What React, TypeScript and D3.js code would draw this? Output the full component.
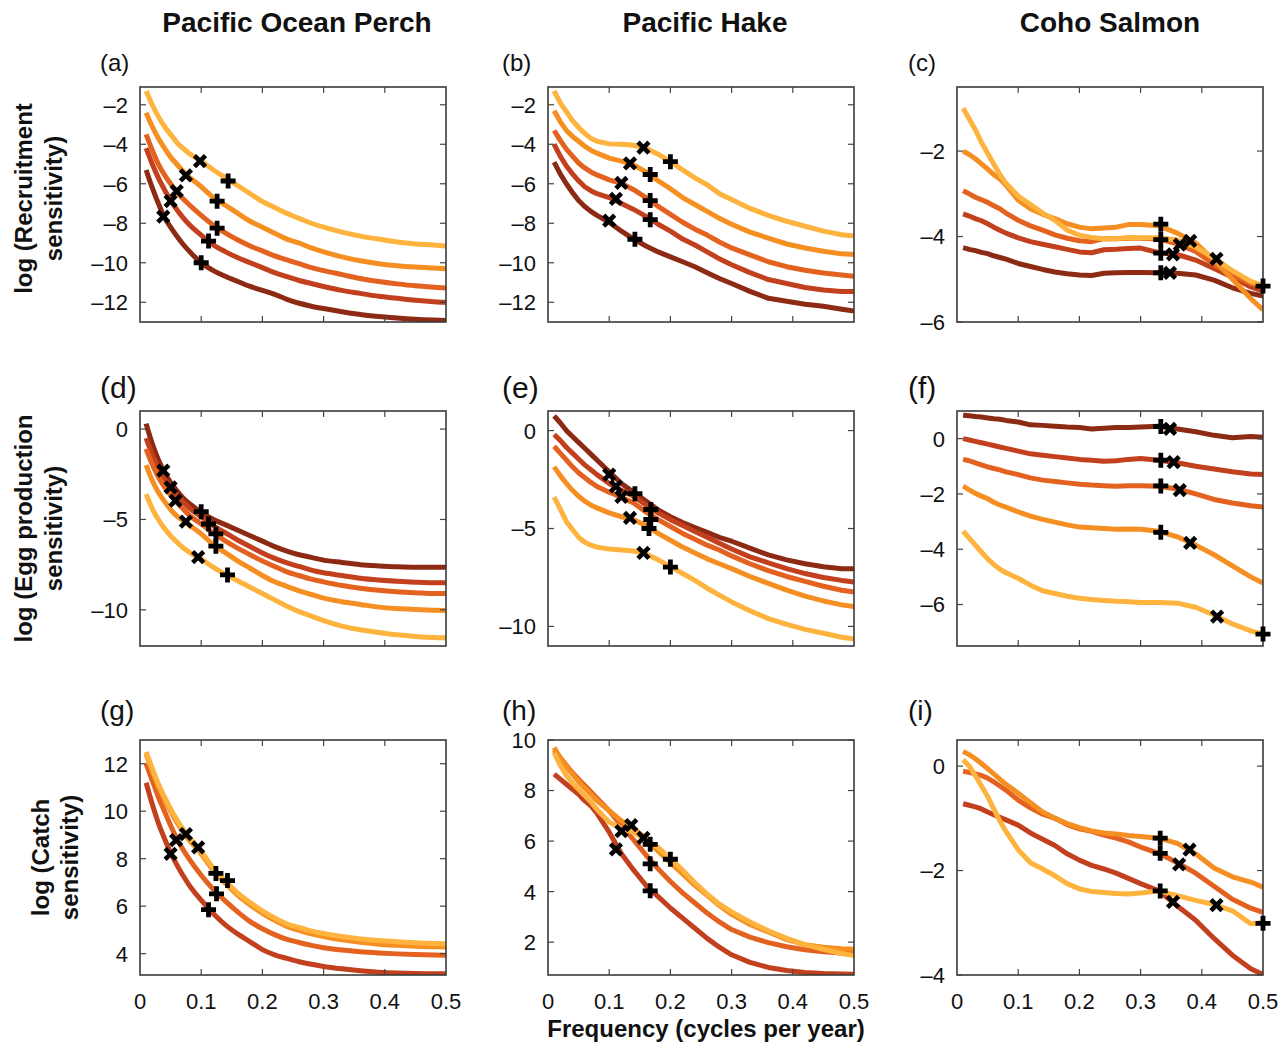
import React from "react";
import * as d3 from "d3";

// frequencies (cycles per year) shared by every curve
const FREQ = [0.01, 0.02, 0.03, 0.04, 0.05, 0.06, 0.07, 0.08, 0.1, 0.12, 0.14, 0.16, 0.18, 0.2, 0.22, 0.24, 0.26, 0.28, 0.3, 0.33, 0.36, 0.39, 0.42, 0.45, 0.48, 0.5];

// light -> dark
const COLORS = ["#FDB33D", "#F58F22", "#E4621F", "#C2401E", "#8C2A13"];

const SPECIES = ["Pacific Ocean Perch", "Pacific Hake", "Coho Salmon"];
const ROW_TITLES = [
  ["log (Recruitment", "sensitivity)"],
  ["log (Egg production", "sensitivity)"],
  ["log (Catch", "sensitivity)"],
];
const X_TICKS = [0, 0.1, 0.2, 0.3, 0.4, 0.5];

// (a) recruitment, perch
const recPerch = [
  [-1.3, -2.0, -2.6, -3.1, -3.5, -3.9, -4.2, -4.45, -4.85, -5.3, -5.7, -6.1, -6.5, -6.9, -7.2, -7.5, -7.75, -8.0, -8.2, -8.45, -8.65, -8.8, -8.95, -9.05, -9.1, -9.15],
  [-2.4, -3.1, -3.7, -4.2, -4.65, -5.0, -5.35, -5.65, -6.15, -6.7, -7.1, -7.5, -7.9, -8.2, -8.5, -8.8, -9.0, -9.25, -9.45, -9.7, -9.9, -10.05, -10.15, -10.22, -10.27, -10.3],
  [-3.5, -4.3, -5.0, -5.55, -6.0, -6.4, -6.75, -7.05, -7.6, -8.1, -8.5, -8.85, -9.15, -9.4, -9.65, -9.85, -10.05, -10.25, -10.4, -10.6, -10.8, -10.95, -11.07, -11.17, -11.24, -11.28],
  [-4.2, -5.0, -5.7, -6.3, -6.85, -7.3, -7.7, -8.05, -8.6, -9.1, -9.45, -9.75, -10.0, -10.25, -10.5, -10.7, -10.9, -11.05, -11.2, -11.4, -11.55, -11.7, -11.8, -11.9, -11.97, -12.0],
  [-5.3, -6.2, -7.0, -7.7, -8.2, -8.65, -9.05, -9.4, -10.0, -10.4, -10.7, -10.95, -11.2, -11.4, -11.6, -11.85, -12.05, -12.2, -12.32, -12.48, -12.62, -12.72, -12.8, -12.86, -12.9, -12.92],
];
const recPerchX = [[0.098, -4.85], [0.075, -5.57], [0.06, -6.37], [0.05, -6.88], [0.038, -7.67]];
const recPerchP = [[0.144, -5.86], [0.126, -6.88], [0.126, -8.25], [0.112, -8.9], [0.1, -10.0]];

// (b) recruitment, hake
const recHake = [
  [-1.3, -1.9, -2.35, -2.8, -3.15, -3.45, -3.7, -3.85, -3.98, -4.0, -4.05, -4.2, -4.5, -4.88, -5.3, -5.7, -6.05, -6.5, -6.8, -7.25, -7.6, -7.9, -8.15, -8.4, -8.58, -8.65],
  [-2.3, -2.85, -3.3, -3.6, -3.85, -4.1, -4.3, -4.45, -4.7, -4.85, -5.05, -5.4, -5.85, -6.25, -6.7, -7.05, -7.4, -7.75, -8.05, -8.45, -8.75, -9.05, -9.25, -9.42, -9.55, -9.58],
  [-3.3, -3.8, -4.25, -4.6, -4.95, -5.2, -5.4, -5.55, -5.8, -5.98, -6.3, -6.7, -7.15, -7.55, -7.95, -8.3, -8.6, -8.95, -9.25, -9.6, -9.95, -10.2, -10.38, -10.52, -10.62, -10.68],
  [-4.0, -4.6, -5.1, -5.5, -5.85, -6.15, -6.35, -6.5, -6.7, -7.0, -7.3, -7.65, -8.05, -8.4, -8.8, -9.1, -9.45, -9.8, -10.1, -10.5, -10.85, -11.05, -11.25, -11.38, -11.45, -11.45],
  [-4.9, -5.5, -6.0, -6.45, -6.85, -7.15, -7.4, -7.6, -7.95, -8.4, -8.8, -9.15, -9.45, -9.7, -9.95, -10.2, -10.5, -10.8, -11.05, -11.45, -11.8, -11.95, -12.1, -12.2, -12.35, -12.45],
];
const recHakeX = [[0.156, -4.17], [0.134, -4.97], [0.12, -5.96], [0.111, -6.76], [0.1, -7.87]];
const recHakeP = [[0.2, -4.88], [0.167, -5.53], [0.167, -6.85], [0.167, -7.82], [0.142, -8.81]];

// (c) recruitment, coho
const recCoho = [
  [-1.0, -1.25, -1.5, -1.8, -2.05, -2.3, -2.55, -2.75, -3.05, -3.25, -3.45, -3.62, -3.85, -3.97, -4.02, -4.05, -4.05, -4.02, -4.03, -4.03, -4.08, -4.25, -4.5, -4.8, -5.05, -5.15],
  [-2.0, -2.08, -2.18, -2.3, -2.42, -2.55, -2.65, -2.8, -3.15, -3.35, -3.48, -3.58, -3.7, -3.78, -3.82, -3.8, -3.78, -3.72, -3.72, -3.75, -3.92, -4.15, -4.55, -5.0, -5.45, -5.72],
  [-2.93, -3.0, -3.08, -3.14, -3.2, -3.28, -3.35, -3.45, -3.62, -3.75, -3.85, -3.96, -4.04, -4.1, -4.12, -4.05, -4.05, -4.04, -4.04, -4.06, -4.17, -4.35, -4.65, -4.9, -5.1, -5.16],
  [-3.47, -3.52, -3.58, -3.63, -3.7, -3.78, -3.85, -3.92, -4.03, -4.12, -4.18, -4.24, -4.3, -4.36, -4.38, -4.31, -4.3, -4.28, -4.27, -4.38, -4.42, -4.55, -4.75, -4.95, -5.18, -5.28],
  [-4.26, -4.3, -4.33, -4.37, -4.4, -4.45, -4.49, -4.53, -4.63, -4.7, -4.77, -4.83, -4.87, -4.9, -4.91, -4.86, -4.85, -4.84, -4.84, -4.85, -4.86, -4.9, -5.02, -5.2, -5.33, -5.39],
];
const recCohoX = [[0.424, -4.52], [0.381, -4.1], [0.364, -4.19], [0.353, -4.42], [0.348, -4.85]];
const recCohoP = [[0.5, -5.16], [0.333, -3.71], [0.333, -4.07], [0.333, -4.39], [0.333, -4.85]];

// (d) egg production, perch
const eggPerch = [
  [-3.6, -4.4, -5.0, -5.5, -5.9, -6.25, -6.55, -6.8, -7.2, -7.65, -8.05, -8.4, -8.75, -9.1, -9.45, -9.8, -10.1, -10.35, -10.6, -10.9, -11.1, -11.25, -11.38, -11.47, -11.53, -11.55],
  [-2.0, -2.85, -3.5, -4.0, -4.45, -4.8, -5.05, -5.3, -5.8, -6.4, -6.85, -7.3, -7.7, -8.1, -8.45, -8.7, -8.95, -9.15, -9.35, -9.55, -9.7, -9.85, -9.93, -9.98, -10.02, -10.04],
  [-1.1, -1.95, -2.65, -3.2, -3.65, -4.05, -4.4, -4.75, -5.25, -5.75, -6.2, -6.6, -6.95, -7.3, -7.6, -7.9, -8.1, -8.3, -8.45, -8.65, -8.8, -8.92, -9.0, -9.05, -9.1, -9.1],
  [-0.5, -1.4, -2.15, -2.75, -3.25, -3.65, -4.0, -4.35, -4.85, -5.35, -5.75, -6.15, -6.5, -6.85, -7.15, -7.4, -7.6, -7.8, -7.95, -8.1, -8.25, -8.35, -8.42, -8.47, -8.5, -8.5],
  [0.3, -0.8, -1.7, -2.4, -2.95, -3.4, -3.8, -4.1, -4.6, -5.0, -5.3, -5.6, -5.9, -6.2, -6.5, -6.75, -6.95, -7.1, -7.25, -7.38, -7.5, -7.57, -7.62, -7.64, -7.65, -7.65],
];
const eggPerchX = [[0.095, -7.09], [0.075, -5.12], [0.058, -3.96], [0.05, -3.22], [0.038, -2.3]];
const eggPerchP = [[0.143, -8.07], [0.124, -6.48], [0.124, -5.8], [0.112, -5.25], [0.1, -4.57]];

// (e) egg production, hake
const eggHake = [
  [-3.4, -4.0, -4.65, -5.05, -5.45, -5.7, -5.85, -5.95, -6.05, -6.1, -6.15, -6.3, -6.6, -6.95, -7.3, -7.65, -8.05, -8.4, -8.75, -9.2, -9.6, -9.9, -10.15, -10.35, -10.55, -10.65],
  [-1.85, -2.3, -2.7, -3.05, -3.35, -3.6, -3.8, -3.95, -4.2, -4.4, -4.55, -4.85, -5.25, -5.6, -5.95, -6.25, -6.55, -6.8, -7.05, -7.45, -7.8, -8.15, -8.45, -8.7, -8.9, -8.98],
  [-0.8, -1.15, -1.5, -1.85, -2.15, -2.4, -2.65, -2.85, -3.15, -3.4, -3.7, -4.15, -4.55, -4.9, -5.25, -5.55, -5.85, -6.1, -6.4, -6.8, -7.15, -7.45, -7.7, -7.95, -8.15, -8.24],
  [-0.2, -0.5, -0.85, -1.15, -1.45, -1.75, -2.0, -2.25, -2.7, -3.05, -3.35, -3.8, -4.2, -4.55, -4.85, -5.15, -5.45, -5.75, -6.05, -6.45, -6.75, -7.05, -7.3, -7.5, -7.65, -7.73],
  [0.75, 0.4, 0.0, -0.3, -0.6, -0.9, -1.2, -1.5, -2.1, -2.7, -3.15, -3.6, -4.05, -4.4, -4.7, -4.95, -5.2, -5.45, -5.65, -6.0, -6.35, -6.6, -6.8, -6.95, -7.05, -7.05],
];
const eggHakeX = [[0.156, -6.24], [0.134, -4.46], [0.12, -3.39], [0.111, -2.85], [0.1, -2.25]];
const eggHakeP = [[0.2, -6.97], [0.165, -5.0], [0.168, -4.54], [0.168, -4.03], [0.142, -3.22]];

// (f) egg production, coho
const eggCoho = [
  [-3.35, -3.6, -3.85, -4.1, -4.35, -4.55, -4.72, -4.85, -5.05, -5.3, -5.5, -5.6, -5.7, -5.77, -5.82, -5.85, -5.88, -5.9, -5.93, -5.93, -5.95, -6.1, -6.38, -6.7, -6.95, -7.07],
  [-1.72, -1.85, -1.98, -2.08, -2.17, -2.3, -2.4, -2.48, -2.65, -2.8, -2.92, -3.02, -3.12, -3.2, -3.22, -3.25, -3.28, -3.27, -3.28, -3.35, -3.55, -3.85, -4.2, -4.6, -5.0, -5.22],
  [-0.75, -0.8, -0.88, -0.95, -1.02, -1.08, -1.13, -1.2, -1.3, -1.42, -1.5, -1.55, -1.6, -1.65, -1.68, -1.7, -1.72, -1.7, -1.7, -1.72, -1.82, -2.0, -2.2, -2.33, -2.43, -2.47],
  [0.0, -0.05, -0.1, -0.15, -0.2, -0.25, -0.3, -0.35, -0.45, -0.55, -0.6, -0.65, -0.7, -0.75, -0.78, -0.82, -0.8, -0.75, -0.72, -0.78, -0.87, -1.0, -1.1, -1.2, -1.28, -1.3],
  [0.85, 0.83, 0.8, 0.78, 0.75, 0.72, 0.7, 0.66, 0.6, 0.5, 0.48, 0.45, 0.42, 0.4, 0.35, 0.38, 0.4, 0.4, 0.42, 0.45, 0.35, 0.25, 0.12, 0.03, 0.08, 0.05],
];
const eggCohoX = [[0.425, -6.44], [0.381, -3.77], [0.364, -1.86], [0.354, -0.85], [0.348, 0.35]];
const eggCohoP = [[0.5, -7.07], [0.333, -3.39], [0.333, -1.71], [0.333, -0.78], [0.333, 0.44]];

// (g) catch, perch (four curves)
const catchPerch = [
  [12.5, 11.8, 11.15, 10.6, 10.1, 9.65, 9.25, 8.9, 8.3, 7.6, 7.05, 6.55, 6.15, 5.8, 5.5, 5.25, 5.1, 4.95, 4.85, 4.72, 4.62, 4.55, 4.5, 4.46, 4.43, 4.42],
  [12.4, 11.7, 11.05, 10.5, 10.0, 9.55, 9.15, 8.8, 8.2, 7.5, 6.95, 6.45, 6.05, 5.7, 5.4, 5.15, 4.98, 4.83, 4.72, 4.58, 4.48, 4.4, 4.35, 4.31, 4.29, 4.28],
  [12.0, 11.3, 10.6, 10.0, 9.4, 8.85, 8.4, 8.0, 7.3, 6.7, 6.2, 5.75, 5.35, 5.05, 4.8, 4.6, 4.47, 4.35, 4.25, 4.15, 4.08, 4.03, 3.99, 3.96, 3.94, 3.93],
  [11.2, 10.3, 9.5, 8.85, 8.25, 7.75, 7.3, 6.9, 6.25, 5.68, 5.2, 4.82, 4.5, 4.17, 3.95, 3.8, 3.66, 3.55, 3.46, 3.36, 3.28, 3.22, 3.18, 3.16, 3.15, 3.15],
];
const catchPerchX = [[0.095, 8.48], [0.075, 9.03], [0.059, 8.78], [0.05, 8.2]];
const catchPerchP = [[0.143, 7.08], [0.124, 7.38], [0.125, 6.52], [0.112, 5.85]];

// (h) catch, hake
const catchHake = [
  [9.5, 9.0, 8.6, 8.3, 8.05, 7.8, 7.55, 7.25, 6.75, 6.5, 6.35, 6.05, 5.75, 5.3, 4.85, 4.35, 3.9, 3.5, 3.2, 2.8, 2.45, 2.15, 1.9, 1.72, 1.55, 1.47],
  [9.7, 9.3, 8.95, 8.65, 8.35, 8.1, 7.85, 7.6, 7.2, 6.8, 6.5, 6.1, 5.6, 5.15, 4.7, 4.25, 3.85, 3.45, 3.1, 2.7, 2.4, 2.1, 1.9, 1.8, 1.74, 1.72],
  [9.6, 9.3, 9.0, 8.7, 8.45, 8.2, 7.95, 7.7, 7.2, 6.6, 6.05, 5.45, 4.9, 4.4, 3.95, 3.55, 3.15, 2.8, 2.5, 2.2, 1.98, 1.82, 1.7, 1.62, 1.57, 1.55],
  [8.65, 8.45, 8.25, 8.05, 7.85, 7.6, 7.4, 7.1, 6.35, 5.5, 4.85, 4.25, 3.8, 3.35, 2.95, 2.55, 2.15, 1.8, 1.5, 1.2, 1.0, 0.88, 0.8, 0.76, 0.74, 0.73],
];
const catchHakeX = [[0.156, 6.13], [0.136, 6.63], [0.12, 6.39], [0.111, 5.67]];
const catchHakeP = [[0.2, 5.28], [0.167, 5.87], [0.167, 5.1], [0.167, 4.03]];

// (i) catch, coho
const catchCoho = [
  [0.12, 0.0, -0.18, -0.38, -0.58, -0.82, -1.05, -1.25, -1.6, -1.85, -1.97, -2.1, -2.25, -2.35, -2.4, -2.42, -2.44, -2.45, -2.43, -2.39, -2.48, -2.57, -2.65, -2.77, -3.02, -3.0],
  [0.28, 0.22, 0.14, 0.05, -0.05, -0.15, -0.25, -0.35, -0.52, -0.7, -0.88, -1.0, -1.1, -1.18, -1.24, -1.28, -1.3, -1.33, -1.35, -1.38, -1.48, -1.68, -1.95, -2.12, -2.22, -2.32],
  [-0.1, -0.12, -0.15, -0.18, -0.23, -0.3, -0.38, -0.46, -0.65, -0.8, -0.92, -1.0, -1.12, -1.2, -1.25, -1.32, -1.38, -1.45, -1.55, -1.67, -1.85, -2.05, -2.3, -2.55, -2.72, -2.8],
  [-0.72, -0.75, -0.78, -0.82, -0.88, -0.93, -0.98, -1.03, -1.13, -1.28, -1.4, -1.52, -1.68, -1.8, -1.9, -1.97, -2.05, -2.15, -2.25, -2.39, -2.68, -2.95, -3.3, -3.62, -3.88, -3.99],
];
const catchCohoX = [[0.424, -2.66], [0.38, -1.6], [0.363, -1.88], [0.353, -2.6]];
const catchCohoP = [[0.5, -3.01], [0.332, -1.38], [0.332, -1.67], [0.332, -2.39]];

const W = 306;
const H = 235;
const COL_LEFT = [140, 548, 957];
const ROW_TOP = [87, 411, 740];
const FONT = "'Liberation Sans', Arial, Helvetica, sans-serif";

const PANELS = [
  { id: "a", row: 0, col: 0, y: [-13, -1.1], ticks: [-2, -4, -6, -8, -10, -12], data: recPerch, cx: recPerchX, px: recPerchP, smooth: true },
  { id: "b", row: 0, col: 1, y: [-13, -1.1], ticks: [-2, -4, -6, -8, -10, -12], data: recHake, cx: recHakeX, px: recHakeP, smooth: false },
  { id: "c", row: 0, col: 2, y: [-6, -0.5], ticks: [-2, -4, -6], data: recCoho, cx: recCohoX, px: recCohoP, smooth: false },
  { id: "d", row: 1, col: 0, y: [-12, 1], ticks: [0, -5, -10], data: eggPerch, cx: eggPerchX, px: eggPerchP, smooth: true },
  { id: "e", row: 1, col: 1, y: [-11, 1], ticks: [0, -5, -10], data: eggHake, cx: eggHakeX, px: eggHakeP, smooth: false },
  { id: "f", row: 1, col: 2, y: [-7.5, 1], ticks: [0, -2, -4, -6], data: eggCoho, cx: eggCohoX, px: eggCohoP, smooth: false },
  { id: "g", row: 2, col: 0, y: [3.1, 13], ticks: [4, 6, 8, 10, 12], data: catchPerch, cx: catchPerchX, px: catchPerchP, smooth: true },
  { id: "h", row: 2, col: 1, y: [0.7, 10], ticks: [2, 4, 6, 8, 10], data: catchHake, cx: catchHakeX, px: catchHakeP, smooth: false },
  { id: "i", row: 2, col: 2, y: [-4, 0.5], ticks: [0, -2, -4], data: catchCoho, cx: catchCohoX, px: catchCohoP, smooth: false },
];

const fmt = (v: number) => String(v).replace("-", "\u2013");

function Panel({ p }: { p: any }) {
  const left = COL_LEFT[p.col];
  const top = ROW_TOP[p.row];
  const x = d3.scaleLinear().domain([0, 0.5]).range([0, W]);
  const y = d3.scaleLinear().domain(p.y).range([H, 0]);
  const line = d3
    .line<number>()
    .x((_, i) => x(FREQ[i]))
    .y((d) => y(d))
    .curve(p.smooth ? d3.curveMonotoneX : d3.curveLinear);

  const labelSize = [24, 30, 28][p.row];
  const labelY = [-16, -13, -20][p.row];
  const labelX = [-40, -46, -49][p.col];

  const series = p.data.map((d: number[], i: number) => ({ d, color: COLORS[i] })).reverse();

  return (
    <g transform={`translate(${left},${top})`}>
      <defs>
        <clipPath id={`clip-${p.id}`}>
          <rect x={0} y={0} width={W} height={H} />
        </clipPath>
      </defs>
      <text x={labelX} y={labelY} fontSize={labelSize} fontFamily={FONT} fill="#111">
        ({p.id})
      </text>
      <g clipPath={`url(#clip-${p.id})`}>
        {series.map((s: any, i: number) => (
          <path key={i} d={line(s.d) || ""} fill="none" stroke={s.color} strokeWidth={5} strokeLinejoin="round" />
        ))}
      </g>
      {/* frame and inside ticks */}
      <rect x={0} y={0} width={W} height={H} fill="none" stroke="#3a3a3a" strokeWidth={1.6} />
      {[0.1, 0.2, 0.3, 0.4].map((t) => (
        <g key={t} stroke="#444" strokeWidth={1.2}>
          <line x1={x(t)} x2={x(t)} y1={0} y2={6} />
          <line x1={x(t)} x2={x(t)} y1={H} y2={H - 6} />
        </g>
      ))}
      {p.ticks.map((t: number) => (
        <g key={t}>
          <line x1={0} x2={6} y1={y(t)} y2={y(t)} stroke="#444" strokeWidth={1.2} />
          <line x1={W} x2={W - 6} y1={y(t)} y2={y(t)} stroke="#444" strokeWidth={1.2} />
          <text x={-12} y={y(t)} dy="0.36em" textAnchor="end" fontSize={22} fontFamily={FONT} fill="#111">
            {fmt(t)}
          </text>
        </g>
      ))}
      {p.row === 2 &&
        X_TICKS.map((t) => (
          <text key={t} x={x(t)} y={H + 34} textAnchor="middle" fontSize={22} fontFamily={FONT} fill="#111">
            {String(t)}
          </text>
        ))}
      {/* markers */}
      {p.cx.map((m: number[], i: number) => (
        <path
          key={`x${i}`}
          transform={`translate(${x(m[0])},${y(m[1])})`}
          d="M-5.5,-5.5L5.5,5.5M-5.5,5.5L5.5,-5.5"
          stroke="#000"
          strokeWidth={4.6}
          fill="none"
        />
      ))}
      {p.px.map((m: number[], i: number) => (
        <path
          key={`p${i}`}
          transform={`translate(${x(m[0])},${y(m[1])})`}
          d="M-7.5,0H7.5M0,-7.5V7.5"
          stroke="#000"
          strokeWidth={4.8}
          fill="none"
        />
      ))}
    </g>
  );
}

export default function App() {
  const rowTitleX = [
    [32, 62],
    [32, 62],
    [49, 78],
  ];
  const titleShift = [4, 4, 0];
  return (
    <svg width={1288} height={1045} style={{ position: "absolute", left: 0, top: 0, background: "#fff" }}>
      {SPECIES.map((s, i) => (
        <text key={s} x={COL_LEFT[i] + W / 2 + titleShift[i]} y={32} textAnchor="middle" fontSize={28} fontWeight="bold" fontFamily={FONT} fill="#111">
          {s}
        </text>
      ))}
      {ROW_TITLES.map((lines, r) => {
        const cy = ROW_TOP[r] + H / 2 - (r === 0 ? 6 : 0);
        return lines.map((ln, k) => (
          <text
            key={`${r}-${k}`}
            transform={`translate(${rowTitleX[r][k]},${cy}) rotate(-90)`}
            textAnchor="middle"
            fontSize={24}
            fontWeight="bold"
            fontFamily={FONT}
            fill="#111"
          >
            {ln}
          </text>
        ));
      })}
      {PANELS.map((p) => (
        <Panel key={p.id} p={p} />
      ))}
      <text x={COL_LEFT[1] + W / 2 + 5} y={1037} textAnchor="middle" fontSize={24} fontWeight="bold" fontFamily={FONT} fill="#111">
        Frequency (cycles per year)
      </text>
    </svg>
  );
}
